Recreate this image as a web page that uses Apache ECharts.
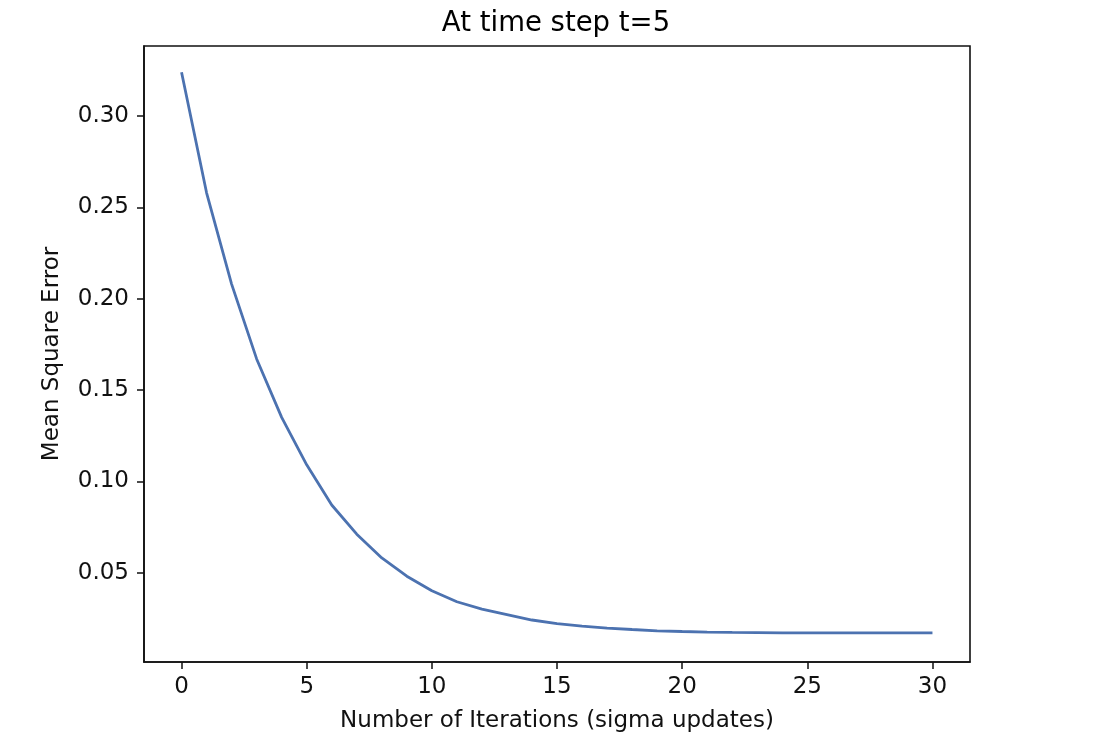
<!DOCTYPE html>
<html>
<head>
<meta charset="utf-8">
<script src="https://cdn.jsdelivr.net/npm/echarts@6/dist/echarts.min.js"></script>
<style>
html,body{margin:0;padding:0;background:#fff;}
#chart{width:1112px;height:745px;}
</style>
</head>
<body>
<div id="chart"></div>
<script>
const titleText = "At time step t=5";
const xName = "Number of Iterations (sigma updates)";
const yName = "Mean Square Error";
const iterations = [0,1,2,3,4,5,6,7,8,9,10,11,12,13,14,15,16,17,18,19,20,21,22,23,24,25,26,27,28,29,30];
const mse = [0.324,0.258,0.208,0.167,0.135,0.109,0.087,0.071,0.058,0.048,0.040,0.034,0.030,0.027,0.024,0.022,0.0207,0.0196,0.0188,0.0181,0.0177,0.0174,0.0172,0.0171,0.0170,0.0170,0.0169,0.0169,0.0169,0.0169,0.0169];
const xTicks = [0,5,10,15,20,25,30];
const yTicks = [0.05,0.10,0.15,0.20,0.25,0.30];

const chart = echarts.init(document.getElementById('chart'));
const font = 'DejaVu Sans';
chart.setOption({
  animation: false,
  backgroundColor: '#fff',
  title: {
    text: titleText, left: 551, top: 5, textAlign: 'center',
    textStyle: {fontFamily: font, fontSize: 27.5, fontWeight: 'normal', color: '#000'}
  },
  grid: {left: 144, right: 142, top: 46, bottom: 83, show: true, borderColor: '#111', borderWidth: 1.6, backgroundColor: 'transparent'},
  xAxis: {
    type: 'value', min: -1.5, max: 31.5,
    name: xName, nameLocation: 'middle', nameGap: 48,
    nameTextStyle: {fontFamily: font, fontSize: 23, color: '#111'},
    axisLine: {show: true, onZero: false, lineStyle: {color: '#111', width: 1.6}},
    axisTick: {show: true, length: 7, lineStyle: {color: '#111', width: 1.5}, customValues: xTicks},
    axisLabel: {fontFamily: font, fontSize: 23, color: '#111', margin: 14, customValues: xTicks, formatter: v => String(v)},
    splitLine: {show: false}
  },
  yAxis: {
    type: 'value', min: 0.0010, max: 0.3384,
    name: yName, nameLocation: 'middle', nameGap: 80, nameRotate: 90,
    nameTextStyle: {fontFamily: font, fontSize: 23, color: '#111'},
    axisLine: {show: true, onZero: false, lineStyle: {color: '#111', width: 1.6}},
    axisTick: {show: true, length: 7, lineStyle: {color: '#111', width: 1.5}, customValues: yTicks},
    axisLabel: {fontFamily: font, fontSize: 23, color: '#111', margin: 15, customValues: yTicks, formatter: v => v.toFixed(2)},
    splitLine: {show: false}
  },
  series: [{
    type: 'line',
    data: iterations.map((x, i) => [x, mse[i]]),
    showSymbol: false, symbol: 'none',
    lineStyle: {color: '#4c72b0', width: 2.8},
    itemStyle: {color: '#4c72b0'}
  }]
});
</script>
</body>
</html>
